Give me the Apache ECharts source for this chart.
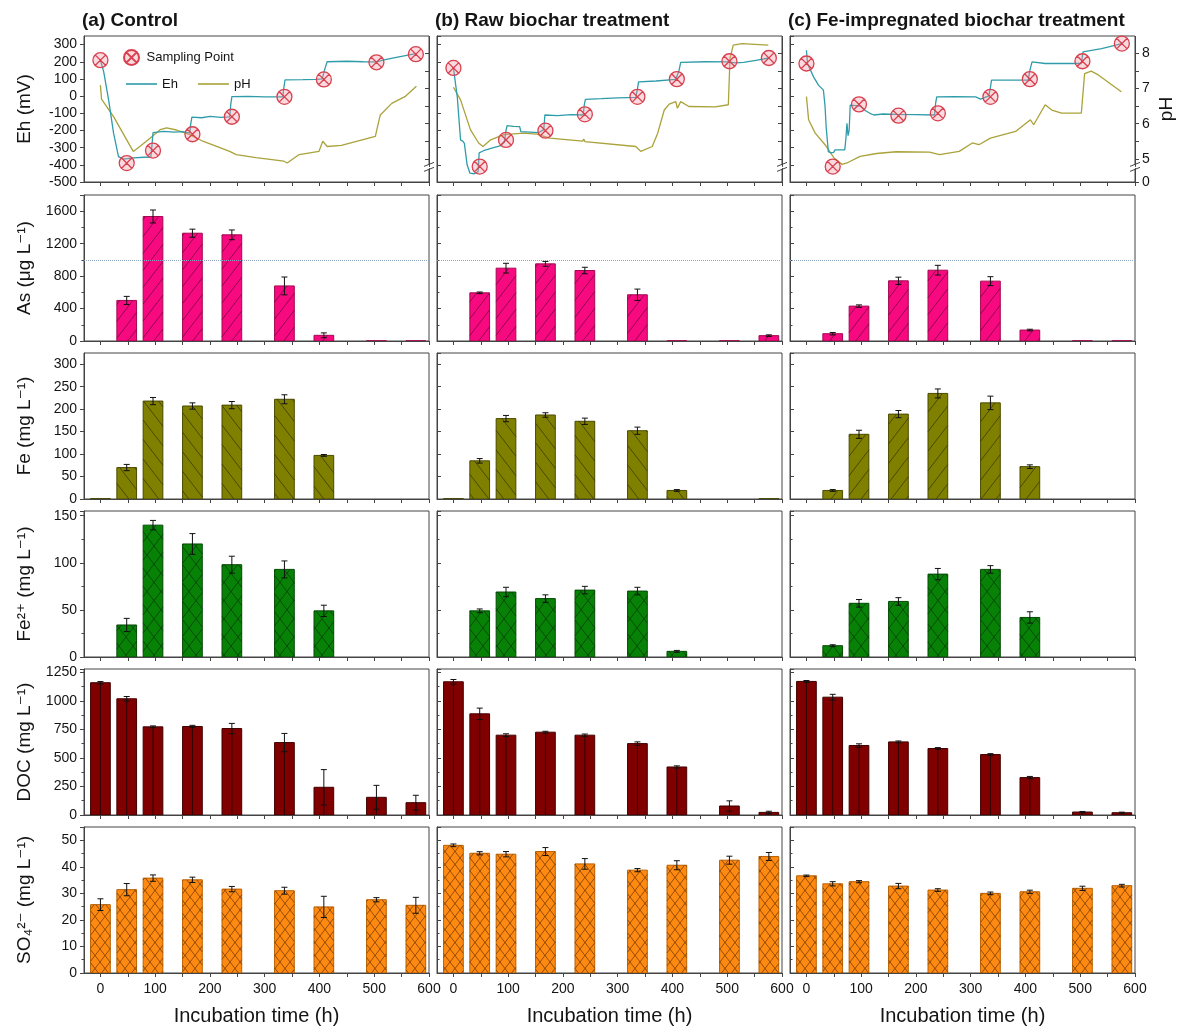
<!DOCTYPE html>
<html>
<head>
<meta charset="utf-8">
<title>Redox dynamics and porewater chemistry during incubation</title>
<script src="https://cdn.jsdelivr.net/npm/echarts@6/dist/echarts.min.js"></script>
<style>
  html, body { margin: 0; padding: 0; background: #ffffff; }
  #chart { width: 1180px; height: 1027px; }
</style>
</head>
<body>
<div id="chart"></div>
<script>
// ---------------------------------------------------------------------------
// Data
// ---------------------------------------------------------------------------
const treatments = ['(a) Control', '(b) Raw biochar treatment', '(c) Fe-impregnated biochar treatment'];

// Sampling times (h)
const sampleTimes = [0, 48, 96, 168, 240, 336, 408, 504, 576];

// Incubation-time axis ticks and labels (h)
const timeTicks = [0, 50, 100, 150, 200, 250, 300, 350, 400, 450, 500, 550, 600];
const timeLabels = [0, 100, 200, 300, 400, 500, 600];

// pH axis ticks and labels (the range between 0 and 5 is collapsed)
const phTicks = [0, 5, 5.5, 6, 6.5, 7, 7.5, 8];
const phLabels = [0, 5, 6, 7, 8];

// Eh at the sampling points (mV)
const ehSampleControl = [209, -390, -317, -222, -120, -4, 97, 197, 244];
const ehSampleRaw     = [164, -410, -255, -201, -106, -4, 99, 203, 222];
const ehSampleFeBC    = [190, -410, -48, -114, -100, -4, 99, 203, 306];

// Continuous Eh logger traces [h, mV]
const ehTraceControl = [[0,209],[6,141],[15,-23],[24,-216],[33,-352],[42,-367],[60,-360],[80,-356],[92,-355],[94,-290],[96,-212],[115,-205],[135,-210],[150,-207],[163,-215],[165,-160],[167,-122],[185,-126],[200,-118],[220,-124],[236,-121],[238,-50],[240,-3],[270,-1],[300,-4],[333,-4],[335,50],[337,94],[370,96],[395,98],[405,100],[410,160],[414,200],[450,203],[480,200],[504,199],[520,212],[545,228],[576,247]];
const ehTraceRaw = [[0,164],[7,-4],[13,-255],[17,-262],[20,-275],[25,-400],[30,-448],[38,-452],[45,-440],[47,-330],[55,-318],[70,-303],[85,-290],[93,-268],[96,-200],[98,-172],[110,-176],[121,-178],[123,-207],[140,-210],[155,-213],[165,-195],[167,-110],[190,-114],[215,-108],[237,-110],[239,-50],[241,-19],[270,-15],[300,-10],[333,-7],[336,40],[338,83],[370,88],[406,97],[412,150],[415,196],[460,200],[502,199],[515,193],[530,196],[555,210],[576,222]];
const ehTraceFeBC = [[0,267],[2,190],[13,112],[22,64],[31,35],[34,-60],[36,-178],[40,-323],[44,-330],[50,-327],[52,-313],[70,-313],[72,-250],[74,-158],[76,-230],[78,-200],[80,-52],[90,-55],[98,-58],[108,-85],[116,-100],[123,-110],[140,-104],[164,-106],[200,-108],[234,-110],[236,-40],[238,-4],[270,-3],[309,-4],[318,-17],[333,2],[336,50],[338,93],[370,93],[405,93],[408,150],[412,199],[436,190],[470,190],[502,190],[505,257],[539,277],[576,306]];

// Continuous pH logger traces [h, pH]
const phTraceControl = [[0,7.1],[2,6.7],[24,6.2],[48,5.54],[60,5.21],[72,5.35],[91,5.59],[109,5.83],[121,5.88],[139,5.82],[163,5.69],[187,5.5],[236,5.21],[248,5.12],[284,5.03],[335,4.93],[341,4.88],[363,5.12],[399,5.21],[406,5.5],[414,5.35],[440,5.38],[502,5.64],[511,6.25],[532,6.58],[556,6.77],[577,7.07]];
const phTraceRaw = [[0,7.04],[13,6.68],[31,5.83],[46,5.45],[54,5.35],[68,5.54],[92,5.69],[128,5.73],[152,5.7],[176,5.59],[236,5.5],[238,5.56],[240,5.49],[333,5.35],[342,5.21],[363,5.35],[373,5.73],[385,6.39],[394,6.56],[406,6.63],[409,6.44],[415,6.63],[430,6.49],[478,6.48],[502,6.54],[505,7.86],[511,8.24],[527,8.28],[575,8.24]];
const phTraceFeBC = [[0,6.77],[4,6.11],[16,5.73],[34,5.4],[50,5.03],[65,4.84],[74,4.88],[98,5.07],[128,5.15],[164,5.2],[225,5.19],[243,5.12],[279,5.21],[303,5.45],[315,5.4],[336,5.59],[382,5.78],[409,6.11],[415,5.97],[436,6.54],[448,6.39],[466,6.3],[502,6.3],[508,7.43],[520,7.5],[533,7.39],[575,6.91]];

// Dissolved As (µg/L) and standard deviation
const asControl   = [0, 500, 1535, 1329, 1309, 679, 70, 3, 3];
const asControlSd = [0, 50, 80, 50, 60, 110, 30, 0, 0];
const asRaw       = [0, 594, 898, 951, 869, 570, 3, 3, 66];
const asRawSd     = [0, 10, 60, 30, 40, 70, 0, 0, 10];
const asFeBC      = [0, 90, 430, 742, 873, 738, 135, 3, 3];
const asFeBCSd    = [0, 15, 15, 45, 60, 55, 10, 0, 0];
const asGuideline = 1000;

// Dissolved Fe (mg/L)
const feControl   = [1, 70, 218, 207, 209, 222, 97, 0, 0];
const feControlSd = [0, 7, 8, 7, 8, 10, 2, 0, 0];
const feRaw       = [1, 85, 179, 187, 173, 152, 19, 0, 1];
const feRawSd     = [0, 5, 7, 5, 7, 8, 2, 0, 0];
const feFeBC      = [0, 19, 144, 189, 235, 214, 72, 0, 0];
const feFeBCSd    = [0, 2, 9, 8, 10, 15, 4, 0, 0];

// Fe2+ (mg/L)
const fe2Control   = [0, 34, 140, 120, 98, 93, 49, 0, 0];
const fe2ControlSd = [0, 7, 5, 11, 9, 9, 6, 0, 0];
const fe2Raw       = [0, 49, 69, 62, 71, 70, 6, 0, 0];
const fe2RawSd     = [0, 2, 5, 4, 4, 4, 1, 0, 0];
const fe2FeBC      = [0, 12, 57, 59, 88, 93, 42, 0, 0];
const fe2FeBCSd    = [0, 1, 4, 4, 6, 4, 6, 0, 0];

// DOC (mg/L)
const docControl   = [1160, 1019, 773, 776, 758, 635, 243, 155, 108];
const docControlSd = [10, 20, 8, 10, 45, 80, 155, 105, 65];
const docRaw       = [1168, 887, 700, 726, 700, 626, 421, 79, 23];
const docRawSd     = [20, 50, 12, 8, 10, 15, 10, 45, 10];
const docFeBC      = [1171, 1033, 609, 641, 583, 530, 328, 26, 20];
const docFeBCSd    = [8, 25, 15, 8, 8, 8, 10, 5, 5];

// SO4 2- (mg/L)
const so4Control   = [25.75, 31.4, 35.75, 35.1, 31.6, 31, 24.9, 27.6, 25.5];
const so4ControlSd = [2.2, 2.3, 1.2, 1, 1, 1.3, 4, 0.8, 3];
const so4Raw       = [48.1, 45.1, 44.75, 45.75, 41.1, 38.75, 40.6, 42.5, 43.9];
const so4RawSd     = [0.5, 0.6, 1, 1.5, 2, 0.6, 1.7, 1.5, 1.5];
const so4FeBC      = [36.6, 33.6, 34.4, 32.75, 31.25, 30, 30.6, 31.9, 32.9];
const so4FeBCSd    = [0.3, 0.8, 0.4, 1, 0.5, 0.5, 0.6, 0.8, 0.5];

// ---------------------------------------------------------------------------
// Layout and styling
// ---------------------------------------------------------------------------
const FONT = "'Liberation Sans', Arial, 'DejaVu Sans', sans-serif";
const AXIS_COLOR = '#444444';
const TEXT_COLOR = '#141414';
const GRID_LEFT = [84, 437, 790];
const GRID_W = 345;
const ROW_TOP = [36, 195, 353, 511, 669, 827];
const ROW_H = 146;
const TIME_MIN = -30, TIME_MAX = 600;
const BAR_SPAN_H = 36;         // bar width expressed in hours
const HATCH_SLOPE = 1.3;       // dy/dx of hatch lines
const PH_BREAK = [0.4, 4.8];   // collapsed part of the pH axis

const EH_COLOR = '#2f9caa';
const PH_COLOR = '#aaa23a';
const MARKER_PATH = 'path://M1,10A9,9,0,1,1,19,10A9,9,0,1,1,1,10ZM3.6,3.6L16.4,16.4M16.4,3.6L3.6,16.4';

// Bar panels (rows 2..6)
const barRows = [
  { name: 'As (μg L⁻¹)', max: 1800, interval: 400, minor: 2,
    values: [asControl, asRaw, asFeBC], sd: [asControlSd, asRawSd, asFeBCSd],
    fill: '#f70a80', edge: '#a3084f', hatchColor: '#7c0340', hatch: [['/'], ['/'], ['/']], step: 13, guide: asGuideline },
  { name: 'Fe (mg L⁻¹)', max: 325, interval: 50, minor: 0,
    values: [feControl, feRaw, feFeBC], sd: [feControlSd, feRawSd, feFeBCSd],
    fill: '#808000', edge: '#4a4a00', hatchColor: '#3a3a00', hatch: [['\\'], ['\\'], ['/']], step: 15 },
  { name: 'Fe²⁺ (mg L⁻¹)', max: 155, interval: 50, minor: 2,
    values: [fe2Control, fe2Raw, fe2FeBC], sd: [fe2ControlSd, fe2RawSd, fe2FeBCSd],
    fill: '#078207', edge: '#064a06', hatchColor: '#054005', hatch: [['/', '\\'], ['/', '\\'], ['/', '\\']], step: 14 },
  { name: 'DOC (mg L⁻¹)', max: 1280, interval: 250, minor: 2,
    values: [docControl, docRaw, docFeBC], sd: [docControlSd, docRawSd, docFeBCSd],
    fill: '#800000', edge: '#400000', hatchColor: '#2e0000', hatch: [[], [], []], center: true, step: 14 },
  { name: 'SO₄²⁻ (mg L⁻¹)', max: 55, interval: 10, minor: 2,
    values: [so4Control, so4Raw, so4FeBC], sd: [so4ControlSd, so4RawSd, so4FeBCSd],
    fill: '#ff8a12', edge: '#b86000', hatchColor: '#7a3c00', hatch: [['/', '\\'], ['/', '\\'], ['/', '\\']], step: 10 }
];

// ---------------------------------------------------------------------------
// Helpers
// ---------------------------------------------------------------------------
function plainNumber(v) { return String(v); }

function hatchSegments(x0, y0, x1, y1, dir, spacing) {
  const m = HATCH_SLOPE, step = m * spacing, out = [];
  if (dir === '/') {            // y = c - m x
    const cMin = m * x0 + y0, cMax = m * x1 + y1;
    for (let k = Math.ceil(cMin / step); k * step <= cMax; k++) {
      const c = k * step;
      const xa = Math.max(x0, (c - y1) / m), xb = Math.min(x1, (c - y0) / m);
      if (xb - xa > 0.3) out.push([xa, c - m * xa, xb, c - m * xb]);
    }
  } else {                      // y = m x - c
    const cMin = m * x0 - y1, cMax = m * x1 - y0;
    for (let k = Math.ceil(cMin / step); k * step <= cMax; k++) {
      const c = k * step;
      const xa = Math.max(x0, (c + y0) / m), xb = Math.min(x1, (c + y1) / m);
      if (xb - xa > 0.3) out.push([xa, m * xa - c, xb, m * xb - c]);
    }
  }
  return out;
}

function makeBarRenderer(row, col) {
  return function (params, api) {
    const t = api.value(0), v = api.value(1), e = api.value(2);
    if (!(v > 0)) return null;
    const top = api.coord([t, v]);
    const base = api.coord([t, 0]);
    const w = api.size([BAR_SPAN_H, 0])[0];
    const x0 = top[0] - w / 2, x1 = top[0] + w / 2;
    const y0 = top[1], y1 = base[1];
    const children = [{
      type: 'rect',
      shape: { x: x0, y: y0, width: w, height: y1 - y0 },
      style: { fill: row.fill, stroke: row.edge, lineWidth: 1 }
    }];
    row.hatch[col].forEach(function (dir) {
      hatchSegments(x0, y0, x1, y1, dir, row.step).forEach(function (s) {
        children.push({ type: 'line', shape: { x1: s[0], y1: s[1], x2: s[2], y2: s[3] },
          style: { stroke: row.hatchColor, lineWidth: 0.8 } });
      });
    });
    if (row.center) {
      children.push({ type: 'line', shape: { x1: top[0], y1: y0, x2: top[0], y2: y1 },
        style: { stroke: row.hatchColor, lineWidth: 1 } });
    }
    if (e > 0) {
      const hi = api.coord([t, v + e]);
      const lo = api.coord([t, Math.max(0, v - e)]);
      const cx = top[0];
      children.push({ type: 'line', shape: { x1: cx, y1: hi[1], x2: cx, y2: lo[1] }, style: { stroke: '#111', lineWidth: 1 } });
      children.push({ type: 'line', shape: { x1: cx - 3, y1: hi[1], x2: cx + 3, y2: hi[1] }, style: { stroke: '#111', lineWidth: 1 } });
      children.push({ type: 'line', shape: { x1: cx - 3, y1: lo[1], x2: cx + 3, y2: lo[1] }, style: { stroke: '#111', lineWidth: 1 } });
    }
    return { type: 'group', children: children };
  };
}

// ---------------------------------------------------------------------------
// Build option
// ---------------------------------------------------------------------------
const grids = [], xAxes = [], yAxes = [], series = [];
const ehSamples = [ehSampleControl, ehSampleRaw, ehSampleFeBC];
const ehTraces = [ehTraceControl, ehTraceRaw, ehTraceFeBC];
const phTraces = [phTraceControl, phTraceRaw, phTraceFeBC];

const rowDefs = [{ name: 'Eh (mV)', min: -500, max: 350, interval: 100, minor: 0 }].concat(
  barRows.map(r => ({ name: r.name, min: 0, max: r.max, interval: r.interval, minor: r.minor })));

rowDefs.forEach(function (rd, r) {
  for (let c = 0; c < 3; c++) {
    const gi = r * 3 + c;
    grids.push({ left: GRID_LEFT[c], top: ROW_TOP[r], width: GRID_W, height: ROW_H,
      show: true, borderColor: AXIS_COLOR, borderWidth: 1, backgroundColor: 'transparent' });
    const bottom = r === rowDefs.length - 1;
    xAxes.push({
      type: 'value', gridIndex: gi, min: TIME_MIN, max: TIME_MAX,
      axisLine: { show: true, onZero: false, lineStyle: { color: AXIS_COLOR, width: 1 } },
      axisTick: { show: true, customValues: timeTicks, length: 4, lineStyle: { color: AXIS_COLOR } },
      axisLabel: { show: bottom, customValues: timeLabels, fontSize: 14, margin: 9, color: TEXT_COLOR, fontFamily: FONT, formatter: plainNumber },
      splitLine: { show: false },
      name: bottom ? 'Incubation time (h)' : '', nameLocation: 'middle', nameGap: 33,
      nameTextStyle: { fontSize: 20, color: TEXT_COLOR, fontFamily: FONT }
    });
    yAxes.push({
      type: 'value', gridIndex: gi, min: rd.min, max: rd.max, interval: rd.interval,
      axisLine: { show: true, onZero: false, lineStyle: { color: AXIS_COLOR, width: 1 } },
      axisTick: { show: true, inside: c > 0, length: 4, lineStyle: { color: AXIS_COLOR } },
      minorTick: { show: rd.minor > 0, splitNumber: rd.minor || 5, length: 2.5, lineStyle: { color: AXIS_COLOR } },
      axisLabel: { show: c === 0, fontSize: 14, margin: 7, color: TEXT_COLOR, fontFamily: FONT, showMaxLabel: false, formatter: plainNumber },
      splitLine: { show: false },
      name: c === 0 ? rd.name : '', nameLocation: 'middle', nameGap: 50, nameRotate: 90,
      nameTextStyle: { fontSize: 19, color: TEXT_COLOR, fontFamily: FONT }
    });
  }
});

// pH axes on the right of the redox panels
for (let c = 0; c < 3; c++) {
  yAxes.push({
    type: 'value', gridIndex: c, position: 'right', min: 0, max: 8.5,
    breaks: [{ start: PH_BREAK[0], end: PH_BREAK[1], gap: '1.5%' }],
    breakArea: { show: false, itemStyle: { opacity: 0 } },
    axisLine: { show: true, onZero: false, lineStyle: { color: AXIS_COLOR, width: 1 } },
    axisTick: { show: true, inside: c < 2, length: 4, customValues: phTicks, lineStyle: { color: AXIS_COLOR } },
    minorTick: { show: false },
    axisLabel: { show: c === 2, customValues: phLabels, fontSize: 14, margin: 7, color: TEXT_COLOR, fontFamily: FONT, formatter: plainNumber },
    splitLine: { show: false },
    name: c === 2 ? 'pH' : '', nameLocation: 'middle', nameGap: 22, nameRotate: 90,
    nameTextStyle: { fontSize: 19, color: TEXT_COLOR, fontFamily: FONT }
  });
}

// Redox panels: Eh trace, pH trace, sampling points
for (let c = 0; c < 3; c++) {
  series.push({
    type: 'line', name: 'pH', xAxisIndex: c, yAxisIndex: 18 + c, data: phTraces[c],
    symbol: 'none', showSymbol: false, lineStyle: { color: PH_COLOR, width: 1.3 }, itemStyle: { color: PH_COLOR }, z: 2
  });
  series.push({
    type: 'line', name: 'Eh', xAxisIndex: c, yAxisIndex: c, data: ehTraces[c],
    symbol: 'none', showSymbol: false, lineStyle: { color: EH_COLOR, width: 1.3 }, itemStyle: { color: EH_COLOR }, z: 3
  });
  series.push({
    type: 'scatter', name: 'Sampling Point', xAxisIndex: c, yAxisIndex: c,
    data: sampleTimes.map((t, i) => [t, ehSamples[c][i]]),
    symbol: MARKER_PATH, symbolSize: 15,
    itemStyle: { color: 'rgba(240,150,160,0.35)', borderColor: '#d8404f', borderWidth: 1.3, opacity: 1 }, z: 5
  });
}

// Bar panels
barRows.forEach(function (row, ri) {
  const r = ri + 1;
  for (let c = 0; c < 3; c++) {
    const gi = r * 3 + c;
    const s = {
      type: 'custom', name: row.name + ' ' + c, xAxisIndex: gi, yAxisIndex: gi,
      dimensions: ['time', 'value', 'sd'], encode: { x: 0, y: 1 },
      data: sampleTimes.map((t, i) => [t, row.values[c][i], row.sd[c][i]]),
      renderItem: makeBarRenderer(row, c), clip: true, z: 2
    };
    if (row.guide !== undefined) {
      s.markLine = { silent: true, symbol: ['none', 'none'], label: { show: false },
        lineStyle: { type: 'dotted', color: '#8fa6c0', width: 1 }, data: [{ yAxis: row.guide }] };
    }
    series.push(s);
  }
});

const option = {
  animation: false,
  backgroundColor: '#ffffff',
  textStyle: { fontFamily: FONT },
  title: treatments.map((t, i) => ({
    text: t, left: GRID_LEFT[i] - 2, top: 11, padding: 0,
    textStyle: { fontSize: 19, fontWeight: 'bold', color: TEXT_COLOR, fontFamily: FONT }
  })),
  legend: [
    { data: ['Sampling Point'], left: 118, top: 44, itemWidth: 20, itemHeight: 15, selectedMode: false,
      textStyle: { fontSize: 13, color: TEXT_COLOR, fontFamily: FONT } },
    { data: [{ name: 'Eh', icon: 'rect' }, { name: 'pH', icon: 'rect' }], left: 121, top: 72,
      itemWidth: 31, itemHeight: 1.6, itemGap: 20, selectedMode: false,
      textStyle: { fontSize: 13, color: TEXT_COLOR, fontFamily: FONT, lineHeight: 14 } }
  ],
  grid: grids, xAxis: xAxes, yAxis: yAxes, series: series
};

const chart = echarts.init(document.getElementById('chart'), null, { renderer: 'canvas' });
chart.setOption(option);

// Break marks on the pH axes
const breakMarks = [];
for (let c = 0; c < 3; c++) {
  const yLo = chart.convertToPixel({ yAxisIndex: 18 + c }, PH_BREAK[0]);
  const yHi = chart.convertToPixel({ yAxisIndex: 18 + c }, PH_BREAK[1]);
  if (!isFinite(yLo) || !isFinite(yHi)) continue;
  breakMarks.push({
    type: 'group', x: GRID_LEFT[c] + GRID_W, y: (yLo + yHi) / 2, silent: true, z: 100,
    children: [
      { type: 'rect', shape: { x: -1.5, y: -2, width: 3, height: 4 }, style: { fill: '#ffffff' } },
      { type: 'line', shape: { x1: -5, y1: -0.5, x2: 5, y2: -4.5 }, style: { stroke: AXIS_COLOR, lineWidth: 1 } },
      { type: 'line', shape: { x1: -5, y1: 4.5, x2: 5, y2: 0.5 }, style: { stroke: AXIS_COLOR, lineWidth: 1 } }
    ]
  });
}
chart.setOption({ graphic: breakMarks });
</script>
</body>
</html>
